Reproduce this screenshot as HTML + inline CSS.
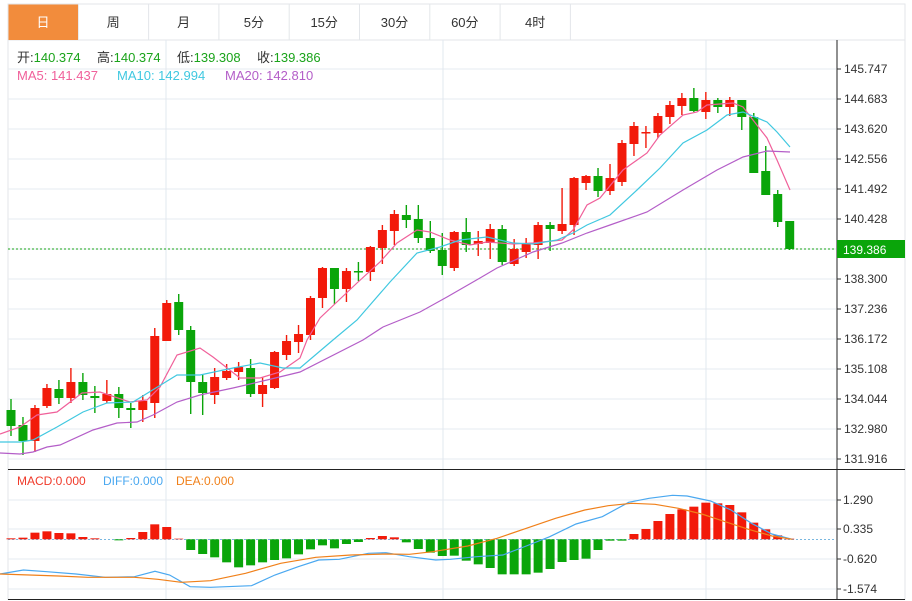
<!DOCTYPE html>
<html><head><meta charset="utf-8"><style>
body{margin:0;background:#fff;font-family:"Liberation Sans","Noto Sans CJK SC",sans-serif;}
svg{display:block}
</style></head><body>
<svg id="s" width="912" height="601" xmlns="http://www.w3.org/2000/svg" font-family="Liberation Sans, Noto Sans CJK SC, sans-serif"></svg>
<script>
const S=document.getElementById('s');let h='';
h+='<rect x="8" y="4" width="897" height="36" fill="#fff" stroke="#e3e6ea"/>';
const tabs=['日','周','月','5分','15分','30分','60分','4时'];
for(let i=0;i<9;i++){const x=8+i*70.3;h+=`<line x1="${x}" y1="4" x2="${x}" y2="40" stroke="#e3e6ea"/>`;}
h+='<rect x="8.5" y="4.5" width="69.5" height="35.5" fill="#f28c3c"/>';
tabs.forEach((t,i)=>{h+=`<text x="${8+i*70.3+35}" y="27" font-size="13" text-anchor="middle" fill="${i?'#333':'#fff'}">${t}</text>`});
h+='<line x1="8" y1="40" x2="8" y2="600" stroke="#e3e6ea"/><line x1="905" y1="40" x2="905" y2="600" stroke="#e3e6ea"/>';
const lab=['145.747','144.683','143.620','142.556','141.492','140.428','','138.300','137.236','136.172','135.108','134.044','132.980','131.916'];
for(let k=0;k<14;k++){const y=69+30*k;h+=`<line x1="8" y1="${y}" x2="836" y2="${y}" stroke="#e6ebf0"/>`;if(lab[k])h+=`<line x1="837" y1="${y}" x2="841" y2="${y}" stroke="#333"/><text x="844" y="${y+4}" font-size="12" fill="#333">${lab[k]}</text>`;}
[166,443,706].forEach(x=>{h+=`<line x1="${x}" y1="40" x2="${x}" y2="600" stroke="#e1e8ef"/>`});
[500,529,559,589].forEach(y=>{h+=`<line x1="8" y1="${y}" x2="836" y2="${y}" stroke="#e6ebf0"/>`});
h+='<line x1="837" y1="40" x2="837" y2="600" stroke="#222"/>';
h+='<line x1="8" y1="469.5" x2="905" y2="469.5" stroke="#222"/><line x1="8" y1="599.5" x2="905" y2="599.5" stroke="#222"/>';
const C=[[410,426,399,436,0],[425,441,417,455,0],[408,441,405,452,1],[388,406,384,408,1],[389,398,380,404,0],[382,398,368,403,1],[382,395,373,400,0],[396,398,386,413,0],[394,401,380,403,1],[394,408,387,418,0],[408,410,403,428,0],[401,410,395,422,1],[336,403,328,418,1],[303,341,300,341,1],[302,330,294,335,0],[330,382,326,414,0],[382,393,375,415,0],[377,395,368,404,1],[371,378,364,380,1],[367,372,362,380,1],[368,394,359,397,0],[385,394,377,407,1],[352,388,351,389,1],[341,355,335,360,1],[334,342,325,353,1],[298,335,296,340,1],[268,298,267,308,1],[268,289,268,304,0],[271,289,268,302,1],[271,272,262,281,0],[247,272,246,281,1],[230,248,225,264,1],[214,231,210,245,1],[215,220,205,228,0],[219,238,205,243,0],[238,251,221,253,0],[250,266,233,275,0],[232,268,231,271,1],[232,245,218,252,0],[241,244,231,256,1],[229,243,224,259,1],[229,262,225,265,0],[249,264,239,266,1],[243,252,238,258,1],[225,245,222,259,1],[225,229,222,251,0],[224,231,188,234,1],[178,225,177,235,1],[176,183,175,190,1],[176,191,168,197,0],[178,191,164,195,1],[143,182,140,186,1],[126,144,122,156,1],[132,133,126,148,1],[116,133,113,138,1],[105,117,101,124,1],[98,106,93,115,1],[98,111,88,112,0],[100,112,92,119,1],[100,107,98,113,0],[100,107,97,116,1],[100,117,100,130,0],[117,173,113,173,0],[171,195,146,195,0],[194,222,190,227,0],[221,249,221,250,0]];
const X=i=>11+i*11.98;
h+='<line x1="8" y1="249" x2="836" y2="249" stroke="#1aa31a" stroke-dasharray="2,2"/>';
C.forEach((c,i)=>{const x=X(i),col=c[4]?'#f21a0a':'#0aa50a';h+=`<line x1="${x}" y1="${c[2]}" x2="${x}" y2="${c[3]}" stroke="${col}" stroke-width="1.4"/><rect x="${x-4.5}" y="${c[0]}" width="9" height="${Math.max(1.5,c[1]-c[0])}" fill="${col}"/>`});
const pl=(p,c,w)=>`<polyline fill="none" stroke="${c}" stroke-width="${w||1.2}" points="${p.map(a=>a.join(',')).join(' ')}"/>`;
h+=pl([[0,434],[20,427],[37,415],[57,412],[82,393],[100,392],[130,402],[147,400],[160,387],[177,355],[200,348],[213,357],[240,378],[260,378],[280,372],[300,358],[307,340],[320,318],[357,283],[380,262],[397,243],[417,230],[430,232],[450,240],[470,245],[487,242],[513,244],[533,243],[562,240],[573,230],[587,205],[600,198],[623,170],[647,153],[660,135],[683,115],[697,112],[707,105],[733,103],[743,107],[753,120],[767,138],[777,160],[790,190]],'#f0609a');
h+=pl([[0,442],[20,442],[33,440],[57,427],[83,412],[107,403],[133,402],[177,375],[200,375],[233,368],[260,363],[283,368],[300,368],[333,340],[357,320],[390,282],[417,253],[440,247],[460,240],[487,237],[513,243],[533,244],[557,240],[573,233],[587,225],[610,215],[637,190],[660,168],[683,143],[707,130],[727,115],[743,112],[767,122],[777,132],[790,147]],'#40c8e0');
h+=pl([[0,453],[20,454],[33,452],[47,447],[60,445],[93,430],[117,423],[137,422],[153,415],[177,402],[200,395],[233,388],[267,380],[300,372],[363,340],[383,327],[420,312],[447,297],[480,278],[497,268],[533,252],[562,243],[587,233],[610,225],[647,212],[683,190],[717,170],[743,157],[767,151],[790,152]],'#b45ec8');
h+='<rect x="837" y="240" width="68" height="18" fill="#0aa50a"/><text x="843" y="254" font-size="12" fill="#fff">139.386</text>';
// legend
h+='<g font-size="13"><text x="17" y="62" fill="#333">开:<tspan fill="#1aa31a">140.374</tspan></text><text x="97" y="62" fill="#333">高:<tspan fill="#1aa31a">140.374</tspan></text><text x="177" y="62" fill="#333">低:<tspan fill="#1aa31a">139.308</tspan></text><text x="257" y="62" fill="#333">收:<tspan fill="#1aa31a">139.386</tspan></text></g>';
h+='<g font-size="13"><text x="17" y="80" fill="#f0609a">MA5: 141.437</text><text x="117" y="80" fill="#40c8e0">MA10: 142.994</text><text x="225" y="80" fill="#b45ec8">MA20: 142.810</text></g>';
h+='<g font-size="12"><text x="17" y="485" fill="#f03a2a">MACD:0.000</text><text x="103" y="485" fill="#4aa8f0">DIFF:0.000</text><text x="176" y="485" fill="#f0801a">DEA:0.000</text></g>';
[['1.290',500],['0.335',529],['-0.620',559],['-1.574',589]].forEach(a=>{h+=`<line x1="837" y1="${a[1]}" x2="841" y2="${a[1]}" stroke="#333"/><text x="843" y="${a[1]+4}" font-size="12" fill="#333">${a[0]}</text>`});
h+='<line x1="8" y1="539.5" x2="836" y2="539.5" stroke="#7ab8e0" stroke-dasharray="2,2"/>';
const B=[235,233,218,214,219,220,231,235,238,241,234,216,193,201,236,270,282,292,307,322,316,307,300,295,283,268,256,265,252,246,234,228,232,247,267,278,288,287,302,313,324,343,343,343,338,327,306,300,296,270,242,242,222,207,183,162,148,140,128,130,135,157,188,208,226,236];
B.forEach((b,i)=>{const x=X(i),y=460+b/3,z=539.3;if(Math.abs(y-z)<0.5)return;const red=y<z;h+=`<rect x="${x-4.5}" y="${Math.min(y,z)}" width="9" height="${Math.abs(y-z)}" fill="${red?'#f21a0a':'#0aa50a'}"/>`});
const cv=p=>p.map(a=>[(a[0]/1.71).toFixed(1),(460+a[1]/3).toFixed(1)]);
h+=pl(cv([[0,342],[40,330],[80,335],[130,342],[180,352],[230,350],[265,334],[290,345],[325,380],[360,382],[430,377],[470,345],[510,320],[545,300],[580,298],[630,280],[660,278],[700,290],[745,300],[770,298],[815,290],[860,285],[900,258],[940,230],[985,192],[1030,170],[1075,127],[1110,115],[1150,106],[1175,108],[1215,123],[1250,150],[1285,190],[1320,222],[1355,238]]),'#4aa8f0');
h+=pl(cv([[0,342],[100,348],[150,352],[230,352],[270,358],[310,367],[360,362],[420,340],[480,310],[540,292],[600,285],[660,282],[700,283],[740,275],[800,258],[850,235],[900,205],[950,175],[1000,150],[1040,137],[1080,130],[1120,133],[1160,145],[1200,162],[1240,185],[1280,208],[1320,228],[1355,238]]),'#f0801a');
S.innerHTML=h;
</script>
</body></html>
